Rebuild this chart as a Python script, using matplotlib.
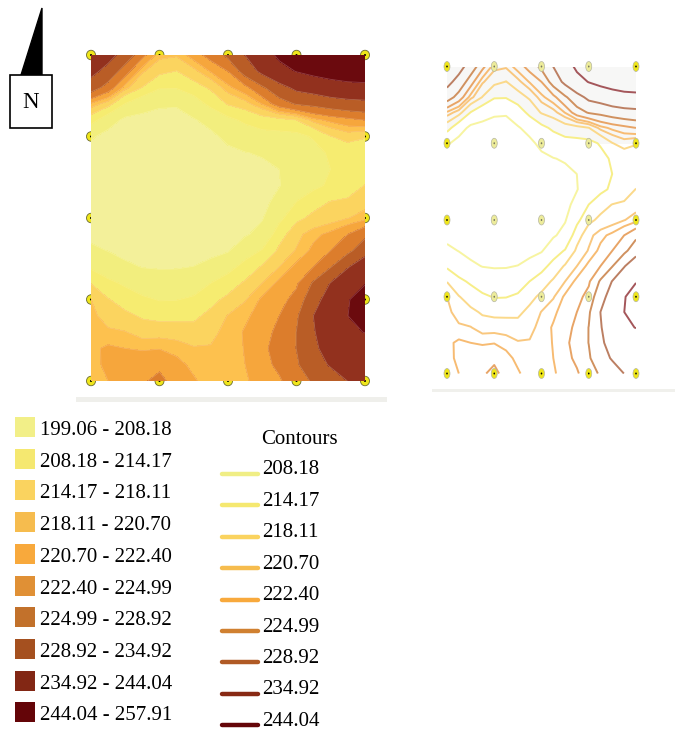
import numpy as np
import matplotlib
matplotlib.use("Agg")
import matplotlib.pyplot as plt
from matplotlib.patches import Ellipse, Polygon, Rectangle

W, H = 675, 730

levels = [199.06, 208.18, 214.17, 218.11, 220.70, 222.40, 224.99, 228.92, 234.92, 244.04, 257.91]
legend_labels = ["199.06 - 208.18", "208.18 - 214.17", "214.17 - 218.11", "218.11 - 220.70", "220.70 - 222.40",
                 "222.40 - 224.99", "224.99 - 228.92", "228.92 - 234.92", "234.92 - 244.04", "244.04 - 257.91"]
contour_labels = ["208.18", "214.17", "218.11", "220.70", "222.40", "224.99", "228.92", "234.92", "244.04"]

legend_colors = ["#F2EF88", "#F5E870", "#FAD35F", "#F6BC4E", "#F8A93C", "#E09035", "#C2712B", "#A5501F", "#822714", "#640508"]
legend_lines = ["#F0EE85", "#F5E870", "#FAD35F", "#F6BC4E", "#F8A93C", "#D08030", "#B05A25", "#882A15", "#640508"]
map_fill = ["#F3F09A", "#F2EE7E", "#F6EC70", "#FBD45F", "#FDC14E", "#F6A63C", "#DC7D2C", "#B95D26", "#92311E", "#6B0A0E"]
map_lines = ["#F7F4A0", "#F7EE88", "#FBD98A", "#F9C77E", "#F7BB72", "#E8A466", "#D0915F", "#BC7F62", "#A4565A"]

# values, rows top to bottom, columns left to right
grid = np.array([
    [241.0, 237.5, 232.0, 226.0, 221.3, 221.0, 223.5, 226.3, 230.0, 235.0, 240.5, 245.5, 248.0, 251.0, 253.0, 255.0, 256.0],
    [237.0, 232.5, 226.5, 221.0, 219.0, 218.0, 220.0, 222.6, 225.0, 231.0, 236.5, 241.5, 244.3, 246.5, 248.0, 249.5, 250.0],
    [231.5, 227.0, 221.5, 218.0, 214.6, 214.5, 216.7, 218.6, 221.8, 224.0, 228.2, 232.5, 236.5, 238.0, 240.0, 241.0, 241.4],
    [222.0, 219.5, 214.0, 210.8, 209.0, 208.7, 211.5, 215.5, 218.4, 219.8, 222.5, 226.8, 229.3, 230.2, 231.5, 232.5, 233.0],
    [216.0, 211.0, 206.8, 206.3, 206.0, 206.3, 207.7, 209.9, 213.0, 215.0, 216.5, 217.0, 218.0, 221.5, 223.0, 224.0, 225.0],
    [209.0, 206.0, 205.0, 204.5, 204.2, 204.5, 205.5, 207.0, 209.5, 211.5, 212.5, 212.7, 212.9, 214.6, 218.0, 219.5, 218.5],
    [206.0, 204.5, 203.5, 203.0, 202.7, 203.0, 204.0, 205.2, 207.0, 208.0, 208.7, 209.5, 211.0, 212.8, 214.8, 215.7, 215.0],
    [204.0, 203.0, 202.5, 201.5, 201.0, 201.5, 202.0, 203.0, 205.0, 206.0, 207.0, 208.2, 210.0, 212.0, 214.2, 215.5, 216.5],
    [203.0, 202.0, 201.5, 200.5, 200.5, 200.5, 201.0, 202.0, 203.5, 205.0, 206.5, 208.0, 210.5, 213.0, 215.0, 216.5, 218.2],
    [203.0, 202.0, 201.5, 201.0, 200.5, 201.0, 201.5, 202.5, 204.0, 205.5, 207.0, 209.5, 214.2, 217.0, 218.2, 218.6, 219.7],
    [204.0, 203.2, 202.5, 202.0, 201.5, 201.7, 202.0, 203.0, 204.5, 206.0, 207.8, 213.0, 217.4, 218.8, 219.6, 220.6, 221.7],
    [206.5, 205.5, 204.5, 204.0, 203.5, 203.5, 204.0, 205.0, 206.0, 207.5, 210.0, 216.7, 220.0, 221.8, 223.0, 225.0, 227.7],
    [209.5, 208.0, 206.7, 205.5, 205.0, 204.8, 205.5, 206.7, 207.7, 212.0, 214.5, 218.8, 220.9, 223.0, 225.0, 227.6, 232.2],
    [213.5, 211.5, 209.2, 208.0, 207.7, 207.8, 208.3, 209.8, 212.6, 215.7, 218.5, 220.7, 223.0, 225.0, 228.7, 234.5, 239.5],
    [218.0, 215.2, 213.5, 211.6, 211.0, 210.8, 211.7, 214.2, 216.4, 218.6, 220.7, 223.0, 224.5, 229.5, 235.2, 240.0, 243.6],
    [220.7, 218.3, 216.5, 215.0, 213.9, 214.0, 214.9, 217.1, 218.9, 220.5, 222.8, 224.0, 226.0, 232.5, 238.0, 243.5, 248.0],
    [221.2, 219.9, 218.9, 217.7, 217.2, 217.3, 217.4, 219.0, 220.8, 222.0, 223.3, 225.0, 228.2, 235.0, 240.0, 244.0, 249.0],
    [221.5, 221.0, 220.8, 219.7, 219.8, 219.5, 219.3, 220.0, 221.5, 222.6, 223.8, 225.8, 229.0, 234.5, 239.0, 243.0, 244.2],
    [221.9, 222.8, 222.4, 222.2, 222.3, 221.9, 220.9, 220.9, 221.6, 222.5, 224.3, 226.3, 229.0, 234.0, 237.0, 240.0, 241.0],
    [221.7, 222.9, 223.0, 223.6, 224.5, 222.9, 222.0, 221.0, 221.5, 222.4, 224.0, 225.7, 228.3, 232.5, 235.5, 238.0, 239.0],
    [221.5, 222.4, 223.4, 224.7, 225.6, 224.1, 222.6, 221.7, 221.5, 222.1, 223.4, 224.6, 227.0, 229.5, 232.2, 235.0, 236.5],
])
grid_x = np.linspace(0, 1, grid.shape[1])
grid_y = np.linspace(0, 1, grid.shape[0])

station_x = [0, 0.25, 0.5, 0.75, 1]
station_y = [0, 0.25, 0.5, 0.75, 1]


def px_axes(left, top, right, bottom):
    ax = fig.add_axes([left / W, 1 - bottom / H, (right - left) / W, (bottom - top) / H])
    ax.set_xlim(0, 1)
    ax.set_ylim(1, 0)
    ax.axis("off")
    return ax


plt.rcParams["font.family"] = ["Liberation Serif", "DejaVu Serif"]
fig = plt.figure(figsize=(W / 100, H / 100), dpi=100)

# full figure layer for the north arrow, legends and bars
page = fig.add_axes([0, 0, 1, 1])
page.set_xlim(0, W)
page.set_ylim(H, 0)
page.axis("off")

page.add_patch(Polygon([(42, 8), (21, 75), (42, 75)], closed=True, color="black"))
page.add_patch(Rectangle((10, 75), 42, 52.5, fc="white", ec="black", lw=1.2))
page.text(30.5, 103, "N", fontsize=16.5, ha="center", va="center")

page.add_patch(Rectangle((76, 397), 311, 5, fc="#EFEFEB", ec="none"))
page.add_patch(Rectangle((432, 389), 243, 2.5, fc="#F0F0EC", ec="none"))

for i, (label, color) in enumerate(zip(legend_labels, legend_colors)):
    top = 417 + i * 31.7
    page.add_patch(Rectangle((15, top), 20, 20, fc=color, ec="none"))
    page.text(40.5, top + 13.5, label, fontsize=15, va="center", ha="left")

page.text(261, 439, "Contours", fontsize=15, va="center", ha="left")
for i, (label, color) in enumerate(zip(contour_labels, legend_lines)):
    y = 474 + i * 31.4
    page.plot([222, 258], [y, y], color=color, lw=3.2, solid_capstyle="round")
    page.text(262, y - 4, label, fontsize=15, va="center", ha="left")

# left map, filled classes
ax1 = px_axes(91, 55, 365, 381)
for sx in station_x:
    for sy in station_y:
        if sx in (0, 1) or sy in (0, 1):
            ax1.add_patch(Ellipse((sx, sy), 9 / 274, 9.5 / 326, fc="#EFE61A", ec="#6A6A30", lw=0.6,
                                  clip_on=False, zorder=0.5))
            ax1.add_patch(Ellipse((sx, sy), 2 / 274, 2 / 326, fc="black", ec="none",
                                  clip_on=False, zorder=0.6))
ax1.contourf(grid_x, grid_y, grid, levels=levels, colors=map_fill, zorder=1)
ax1.contour(grid_x, grid_y, grid, levels=levels[1:-1], colors=map_lines, linewidths=0.6, alpha=0.7, zorder=2)

# right map, contour lines only
ax2 = px_axes(447, 66.5, 636, 373.5)
upper = np.ma.masked_where(np.arange(grid.shape[0])[:, None] * np.ones(grid.shape) > 5, grid)
ax2.contourf(grid_x, grid_y, upper, levels=[levels[2], levels[-1]], colors=["#F7F7F6"], zorder=1)
ax2.contour(grid_x, grid_y, grid, levels=levels[1:-1], colors=map_lines, linewidths=1.4, zorder=2)
for sx in station_x:
    for sy in station_y:
        edge = sx in (0, 1) or sy == 1
        face = "#EFE61A" if edge else "#EDEC9A"
        ax2.add_patch(Ellipse((sx, sy), 6 / 190, 10 / 308, fc=face, ec="#B5B5A0", lw=0.5, clip_on=False, zorder=3))
        ax2.add_patch(Ellipse((sx, sy), 1.6 / 190, 2 / 308, fc="black" if edge else "#777760", ec="none",
                              clip_on=False, zorder=4))

fig.savefig("out.png", dpi=100)
plt.close(fig)
